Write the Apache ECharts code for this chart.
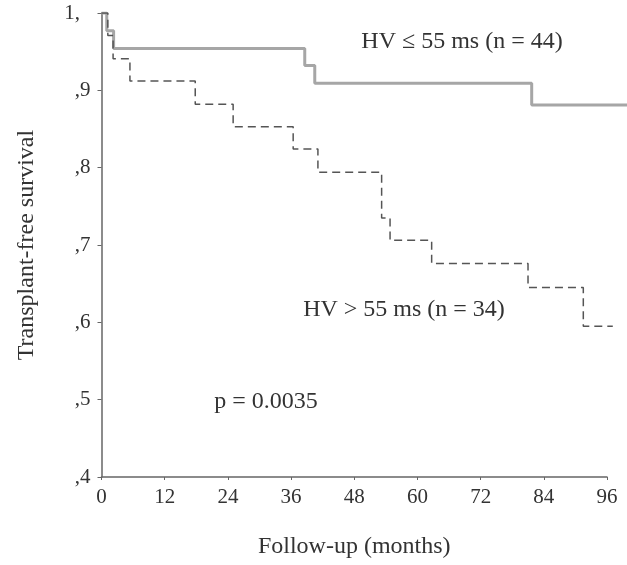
<!DOCTYPE html>
<html>
<head>
<meta charset="utf-8">
<script src="https://cdn.jsdelivr.net/npm/echarts@6/dist/echarts.min.js"></script>
<style>
html, body { margin: 0; padding: 0; background: #fff; }
#chart { width: 627px; height: 565px; }
</style>
</head>
<body>
<div id="chart"></div>
<script type="text/javascript">
// HV <= 55 ms (n = 44), solid curve
var lowTimes = [0, 1.0, 2.3, 38.6, 40.5, 81.7, 99.8];
var lowSurv  = [1, 0.977, 0.954, 0.932, 0.909, 0.881, 0.881];

// HV > 55 ms (n = 34), dashed curve
var highTimes = [0, 1.2, 2.2, 5.4, 17.8, 25.0, 36.4, 41.1, 53.2, 54.8, 62.7, 81.0, 91.5, 97.1];
var highSurv  = [1, 0.971, 0.941, 0.912, 0.882, 0.853, 0.824, 0.794, 0.735, 0.706, 0.676, 0.645, 0.595, 0.595];

var xTicks = [0, 12, 24, 36, 48, 60, 72, 84, 96];
var yTicks = [0.4, 0.5, 0.6, 0.7, 0.8, 0.9, 1.0];

var labelLow = 'HV \u2264 55 ms (n = 44)';
var labelHigh = 'HV > 55 ms (n = 34)';
var pText = 'p = 0.0035';

function pairs(t, s) {
    var res = [];
    for (var i = 0; i < t.length; i++) res.push([t[i], s[i]]);
    return res;
}

var font = '"Liberation Serif", "DejaVu Serif", serif';
var ink = '#333';

// the curves run a little past the drawn x axis (which stops at 96),
// so they sit in a second, wider grid with the same month scale
var W = 627, gLeft = 101.5, gRight = 20, gTop = 13, gBottom = 88;
var xMax = xTicks[xTicks.length - 1];
var xMaxWide = xMax * (W - gLeft) / (W - gLeft - gRight);

var myChart = echarts.init(document.getElementById('chart'));
var option = {
    animation: false,
    backgroundColor: '#fff',
    grid: [
        { left: gLeft, right: gRight, top: gTop, bottom: gBottom },
        { left: gLeft, right: 0, top: gTop, bottom: gBottom }
    ],
    xAxis: [
        {
            type: 'value',
            gridIndex: 0,
            min: xTicks[0],
            max: xMax,
            interval: 12,
            name: 'Follow-up (months)',
            nameLocation: 'middle',
            nameGap: 58,
            nameTextStyle: { fontFamily: font, fontSize: 24, color: ink },
            axisLine: { lineStyle: { color: '#666', width: 1.5 } },
            axisTick: { length: 3, lineStyle: { color: '#666' } },
            axisLabel: { fontFamily: font, fontSize: 21, color: ink, margin: 10 },
            splitLine: { show: false }
        },
        {
            type: 'value',
            gridIndex: 1,
            min: 0,
            max: xMaxWide,
            show: false
        }
    ],
    yAxis: [
        {
            type: 'value',
            gridIndex: 0,
            min: yTicks[0],
            max: yTicks[yTicks.length - 1],
            interval: 0.1,
            name: 'Transplant-free survival',
            nameLocation: 'middle',
            nameGap: 63,
            nameTextStyle: { fontFamily: font, fontSize: 24, color: ink },
            axisLine: { lineStyle: { color: '#666', width: 1.5 } },
            axisTick: { length: 4, lineStyle: { color: '#666' } },
            axisLabel: {
                fontFamily: font, fontSize: 21, color: ink, margin: 11,
                formatter: function (v) {
                    var d = Math.round(v * 10);
                    return d === 10 ? '1,  ' : ',' + d;
                }
            },
            splitLine: { show: false }
        },
        {
            type: 'value',
            gridIndex: 1,
            min: yTicks[0],
            max: yTicks[yTicks.length - 1],
            show: false
        }
    ],
    series: [
        {
            name: labelLow,
            type: 'line',
            xAxisIndex: 1,
            yAxisIndex: 1,
            step: 'end',
            symbol: 'none',
            lineStyle: { color: '#a6a6a6', width: 3 },
            data: pairs(lowTimes, lowSurv)
        },
        {
            name: labelHigh,
            type: 'line',
            xAxisIndex: 1,
            yAxisIndex: 1,
            step: 'end',
            symbol: 'none',
            lineStyle: { color: '#555', width: 1.5, type: [8, 5] },
            data: pairs(highTimes, highSurv)
        }
    ],
    graphic: [
        { type: 'text', x: 462, y: 42, style: { text: labelLow, font: '24px ' + font, fill: ink, textAlign: 'center', textVerticalAlign: 'middle' } },
        { type: 'text', x: 404, y: 310, style: { text: labelHigh, font: '24px ' + font, fill: ink, textAlign: 'center', textVerticalAlign: 'middle' } },
        { type: 'text', x: 266, y: 402, style: { text: pText, font: '24px ' + font, fill: ink, textAlign: 'center', textVerticalAlign: 'middle' } }
    ]
};
myChart.setOption(option);
</script>
</body>
</html>
